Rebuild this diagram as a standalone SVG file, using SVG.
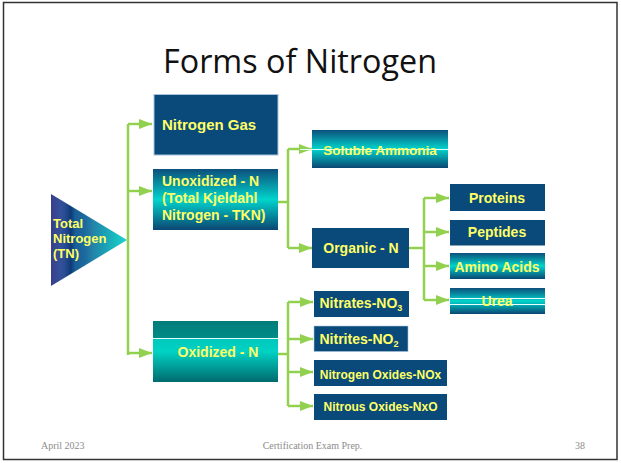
<svg xmlns="http://www.w3.org/2000/svg" width="621" height="463" viewBox="0 0 621 463">
  <style>
    .box { fill: #0a4a7a; }
    .lbl { font-family: "Liberation Sans", Arial, sans-serif; font-weight: bold; fill: #ffff66; }
    .wire { fill: none; stroke: #92d050; stroke-width: 2.5; }
    .foot { font-family: "Liberation Serif", "Times New Roman", serif; font-size: 10px; fill: #8c8c8c; }
    .sheen { stroke: #e8ffff; stroke-width: 1; }
  </style>
  <defs>
    <marker id="arrow" viewBox="0 0 13 10" refX="13" refY="5" markerWidth="13" markerHeight="10" markerUnits="userSpaceOnUse" orient="auto">
      <path d="M0,0 L13,5 L0,10 z" fill="#92d050"/>
    </marker>
    <linearGradient id="tealV" x1="0" y1="0" x2="0" y2="1">
      <stop offset="0" stop-color="#0d4f7c"/>
      <stop offset="0.5" stop-color="#00d4cc"/>
      <stop offset="1" stop-color="#0b4672"/>
    </linearGradient>
    <linearGradient id="oxid" x1="0" y1="0" x2="0" y2="1">
      <stop offset="0" stop-color="#007c7a"/>
      <stop offset="0.28" stop-color="#008c88"/>
      <stop offset="0.29" stop-color="#00c8bc"/>
      <stop offset="0.5" stop-color="#00d2c4"/>
      <stop offset="1" stop-color="#006a6e"/>
    </linearGradient>
    <linearGradient id="tri" x1="51" y1="0" x2="127" y2="0" gradientUnits="userSpaceOnUse">
      <stop offset="0" stop-color="#3a3e88"/>
      <stop offset="0.12" stop-color="#34509a"/>
      <stop offset="0.18" stop-color="#2a4c94"/>
      <stop offset="0.26" stop-color="#0e3a78"/>
      <stop offset="0.32" stop-color="#1a5e96"/>
      <stop offset="0.45" stop-color="#1c6a9e"/>
      <stop offset="0.55" stop-color="#2482a8"/>
      <stop offset="0.7" stop-color="#1a9eb4"/>
      <stop offset="0.85" stop-color="#18bcc0"/>
      <stop offset="1" stop-color="#22d2cc"/>
    </linearGradient>
  </defs>

  <!-- slide frame -->
  <rect x="3.5" y="2.5" width="613.5" height="457" fill="#ffffff" stroke="#333333" stroke-width="1.5"/>

  <!-- title -->
  <text x="300" y="73" text-anchor="middle" font-family="'Open Sans', 'Liberation Sans', sans-serif" font-size="32" fill="#111111" textLength="274" lengthAdjust="spacingAndGlyphs">Forms of Nitrogen</text>

  <!-- connectors -->
  <g id="connectors">
    <path class="wire" d="M128,124 V355"/>
    <path class="wire" d="M128,124 H152" marker-end="url(#arrow)"/>
    <path class="wire" d="M128,191 H152" marker-end="url(#arrow)"/>
    <path class="wire" d="M128,353 H152" marker-end="url(#arrow)"/>

    <path class="wire" d="M278,202 H288"/>
    <path class="wire" d="M288,149 V248"/>
    <path class="wire" d="M288,149 H312" marker-end="url(#arrow)"/>
    <path class="wire" d="M288,248 H312" marker-end="url(#arrow)"/>

    <path class="wire" d="M409,248 H424"/>
    <path class="wire" d="M424,198 V300"/>
    <path class="wire" d="M424,198 H449" marker-end="url(#arrow)"/>
    <path class="wire" d="M424,232 H449" marker-end="url(#arrow)"/>
    <path class="wire" d="M424,266 H449" marker-end="url(#arrow)"/>
    <path class="wire" d="M424,300 H449" marker-end="url(#arrow)"/>

    <path class="wire" d="M278,354 H288"/>
    <path class="wire" d="M288,302 V406"/>
    <path class="wire" d="M288,302 H313" marker-end="url(#arrow)"/>
    <path class="wire" d="M288,339 H313" marker-end="url(#arrow)"/>
    <path class="wire" d="M288,372 H313" marker-end="url(#arrow)"/>
    <path class="wire" d="M288,406 H313" marker-end="url(#arrow)"/>
  </g>

  <!-- root -->
  <g id="total-nitrogen">
    <polygon points="51,194 127,240 51,286" fill="url(#tri)"/>
    <text class="lbl" font-size="13" x="53" y="228">Total</text>
    <text class="lbl" font-size="13" x="53" y="243">Nitrogen</text>
    <text class="lbl" font-size="13" x="53" y="258">(TN)</text>
  </g>

  <g id="nitrogen-gas">
    <rect class="box" x="154" y="94.5" width="124" height="60.5" stroke="#a9c3dc" stroke-width="1"/>
    <text class="lbl" font-size="15" x="162" y="130">Nitrogen Gas</text>
  </g>

  <g id="unoxidized">
    <rect x="153" y="169" width="125" height="61" fill="url(#tealV)"/>
    <text class="lbl" font-size="14" x="162" y="186">Unoxidized - N</text>
    <text class="lbl" font-size="14" x="162" y="203">(Total Kjeldahl</text>
    <text class="lbl" font-size="14" x="162" y="220">Nitrogen - TKN)</text>
  </g>

  <g id="oxidized">
    <rect x="153" y="321" width="125" height="61" fill="url(#oxid)"/>
    <line class="sheen" x1="153" y1="338.5" x2="278" y2="338.5"/>
    <text class="lbl" font-size="14" x="218" y="357" text-anchor="middle">Oxidized - N</text>
  </g>

  <g id="soluble-ammonia">
    <rect x="312" y="130" width="136" height="38" fill="url(#tealV)"/>
    <line class="sheen" x1="300" y1="149.5" x2="448" y2="149.5"/>
    <text class="lbl" font-size="13.5" x="380" y="155" text-anchor="middle">Soluble Ammonia</text>
  </g>

  <g id="organic-n">
    <rect class="box" x="312" y="228" width="97" height="40"/>
    <text class="lbl" font-size="14" x="361" y="253" text-anchor="middle">Organic - N</text>
  </g>

  <g id="proteins">
    <rect class="box" x="450" y="184" width="95" height="27"/>
    <text class="lbl" font-size="14" x="497" y="203" text-anchor="middle">Proteins</text>
  </g>

  <g id="peptides">
    <rect class="box" x="450" y="220" width="95" height="25.5"/>
    <text class="lbl" font-size="14" x="497" y="237" text-anchor="middle">Peptides</text>
  </g>

  <g id="amino-acids">
    <rect x="450" y="253" width="95" height="26" fill="url(#tealV)"/>
    <text class="lbl" font-size="14" x="497" y="271.5" text-anchor="middle">Amino Acids</text>
  </g>

  <g id="urea">
    <rect x="450" y="288" width="95" height="26" fill="url(#tealV)"/>
    <line class="sheen" x1="450" y1="298.5" x2="545" y2="298.5"/>
    <line class="sheen" x1="450" y1="304.5" x2="545" y2="304.5"/>
    <text class="lbl" font-size="14" x="497" y="306" text-anchor="middle">Urea</text>
  </g>

  <g id="nitrates">
    <rect class="box" x="314" y="291" width="95" height="26"/>
    <text class="lbl" font-size="14" x="319.5" y="308">Nitrates-NO<tspan font-size="9" dy="3">3</tspan></text>
  </g>

  <g id="nitrites">
    <rect class="box" x="314" y="326" width="94" height="25.5" stroke="#a9c3dc" stroke-width="0.6"/>
    <text class="lbl" font-size="14" x="319.5" y="343.5">Nitrites-NO<tspan font-size="9" dy="3">2</tspan></text>
  </g>

  <g id="nitrogen-oxides">
    <rect class="box" x="314" y="360" width="133" height="26"/>
    <text class="lbl" font-size="12" x="380.5" y="379" text-anchor="middle">Nitrogen Oxides-NOx</text>
  </g>

  <g id="nitrous-oxides">
    <rect class="box" x="314" y="394" width="133" height="26"/>
    <text class="lbl" font-size="12" x="380.5" y="411" text-anchor="middle">Nitrous Oxides-NxO</text>
  </g>

  <!-- footer -->
  <text class="foot" x="41" y="449">April 2023</text>
  <text class="foot" x="312.5" y="449" text-anchor="middle">Certification Exam Prep.</text>
  <text class="foot" x="585" y="449" text-anchor="end">38</text>
</svg>
